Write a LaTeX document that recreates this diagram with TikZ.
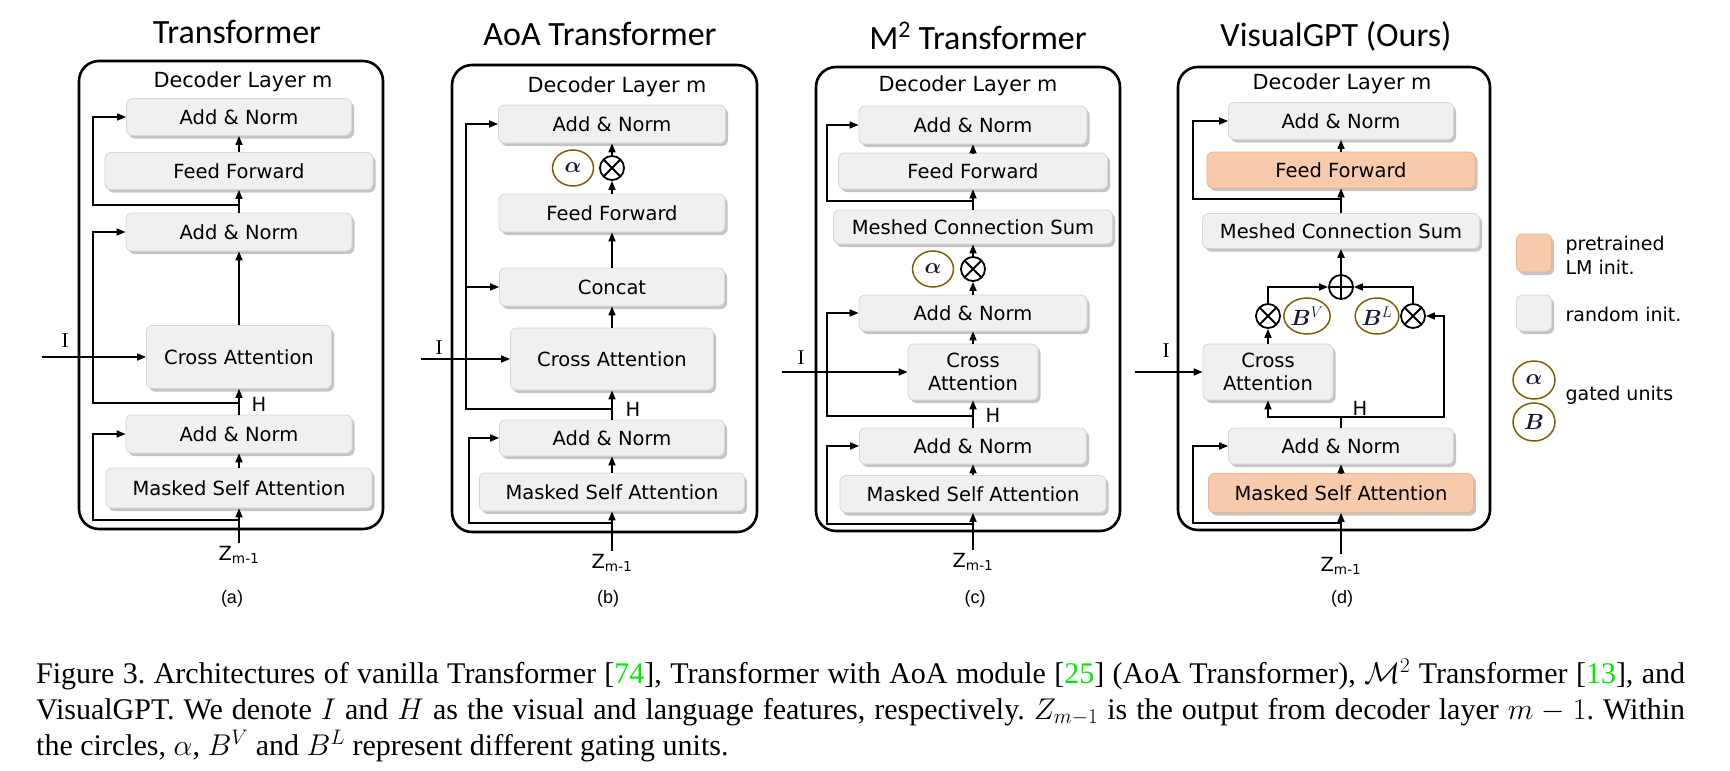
\RequirePackage{fix-cm}
\documentclass[tikz,border=0pt]{standalone}
\usepackage{amsmath}
\usepackage{bm}
\usepackage{xcolor}
\usepackage{fontspec}
\setmainfont{DejaVu Sans}
\newfontfamily\titlefont{Carlito}
\newfontfamily\capfont{Liberation Serif}
\newfontfamily\subfont{Liberation Sans}
\usepackage{tikz}
\usetikzlibrary{arrows.meta, positioning, shapes.geometric, shadows}
\definecolor{boxgray}{RGB}{240, 240, 240}
\definecolor{boxedge}{RGB}{214, 214, 214}
\definecolor{lmfill}{RGB}{248, 203, 173}
\definecolor{lmedge}{RGB}{244, 177, 131}
\definecolor{gatebrown}{RGB}{127, 96, 0}
\definecolor{gateink}{RGB}{25, 25, 60}
\definecolor{refgreen}{RGB}{0, 235, 0}
\newcommand\boxfont{\fontsize{19.5}{23}\selectfont}
\newcommand\decfont{\fontsize{20.8}{23}\selectfont}
\newcommand\gatefont{\fontsize{22}{24}\selectfont}

\begin{document}
\begin{tikzpicture}[
  x=1pt, y=-1pt,
  >={Triangle[length=9pt, width=7pt]},
  blk/.style={
    rectangle, rounded corners=6pt, draw=boxedge, fill=boxgray,
    line width=0.8pt, inner sep=0pt, font=\boxfont, align=center,
    drop shadow={shadow xshift=2.5pt, shadow yshift=-3pt, fill=black!45, opacity=0.5}
  },
  lmblk/.style={blk, draw=lmedge, fill=lmfill},
  frame/.style={rectangle, rounded corners=20pt, draw, line width=2.6pt, inner sep=0pt},
  flow/.style={->, line width=1.6pt},
  link/.style={line width=1.6pt},
  gate/.style={
    ellipse, draw=gatebrown, line width=1.5pt, minimum width=41pt,
    minimum height=36pt, inner sep=0pt, text=gateink, font=\gatefont
  },
  prodop/.style={
    circle, draw, line width=1.8pt, minimum size=24pt, inner sep=0pt, fill=white,
    path picture={\draw[line width=1.8pt]
      (path picture bounding box.north west) -- (path picture bounding box.south east)
      (path picture bounding box.north east) -- (path picture bounding box.south west);}
  },
  sumop/.style={
    circle, draw, line width=1.8pt, minimum size=24pt, inner sep=0pt, fill=white,
    path picture={\draw[line width=1.8pt]
      (path picture bounding box.north) -- (path picture bounding box.south)
      (path picture bounding box.west) -- (path picture bounding box.east);}
  },
  ttl/.style={font=\titlefont\fontsize{34}{38}\selectfont},
  lbl/.style={font=\boxfont},
  dec/.style={font=\decfont},
  sublbl/.style={font=\subfont\fontsize{18}{20}\selectfont},
  vis/.style={font=\capfont\fontsize{21}{24}\selectfont},
  capline/.style={anchor=base west, inner sep=0pt, font=\capfont\fontsize{30}{36}\selectfont\frenchspacing},
]

\fill[white] (0,0) rectangle (1730,771);
\useasboundingbox (0,0) rectangle (1730,771);

% ---------------- (a) Transformer ----------------
\def\xA{239}
\node[frame, minimum width=304pt, minimum height=468pt] (a-frame) at (231,295) {};
\node[ttl] (a-title) at (237,32) {Transformer};
\node[dec] (a-dec) at (243,82) {Decoder Layer m};

\node[blk, minimum width=225pt, minimum height=37pt] (a-an1) at (\xA,117) {Add \& Norm};
\node[blk, minimum width=268pt, minimum height=37pt] (a-ff)  at (\xA,171) {Feed Forward};
\node[blk, minimum width=226pt, minimum height=38pt] (a-an2) at (\xA,232) {Add \& Norm};
\node[blk, minimum width=185pt, minimum height=63pt] (a-ca)  at (\xA,357) {Cross Attention};
\node[blk, minimum width=226pt, minimum height=38pt] (a-an3) at (\xA,434) {Add \& Norm};
\node[blk, minimum width=266pt, minimum height=40pt] (a-ms)  at (\xA,488) {Masked Self Attention};

\node[lbl] (a-z) at (\xA,555) {Z\textsubscript{m-1}};
\node[vis] (a-i) at (65,341) {I};
\node[lbl] (a-h) at (259,404) {H};
\node[sublbl] (a-sub) at (232,599) {(a)};

\coordinate (a-in) at (42,357);
\coordinate (a-j1) at (\xA,520);
\coordinate (a-j2) at (\xA,403);
\coordinate (a-j3) at (\xA,205);

\draw[flow] (a-z) -- (a-ms);
\draw[flow] (a-ms) -- (a-an3);
\draw[flow] (a-j1) -- ++(-146,0) |- (a-an3);
\draw[flow] (a-an3) -- (a-ca);
\draw[flow] (a-in) -- (a-ca);
\draw[flow] (a-j2) -- ++(-146,0) |- (a-an2);
\draw[flow] (a-ca) -- (a-an2);
\draw[flow] (a-an2) -- (a-ff);
\draw[flow] (a-j3) -- ++(-146,0) |- (a-an1);
\draw[flow] (a-ff) -- (a-an1);

% ---------------- (b) AoA Transformer ----------------
\def\xB{612}
\node[frame, minimum width=305pt, minimum height=467pt] (b-frame) at (604.5,298.5) {};
\node[ttl] (b-title) at (600,34) {AoA Transformer};
\node[dec] (b-dec) at (617,87) {Decoder Layer m};

\node[blk, minimum width=227pt, minimum height=38pt] (b-an1) at (\xB,124) {Add \& Norm};
\node[gate] (b-alpha) at (573,168) {$\bm{\alpha}$};
\node[prodop] (b-mul) at (\xB,168) {};
\node[blk, minimum width=226pt, minimum height=38pt] (b-ff)  at (\xB,213) {Feed Forward};
\node[blk, minimum width=225pt, minimum height=38pt] (b-cc)  at (\xB,287) {Concat};
\node[blk, minimum width=203pt, minimum height=62pt] (b-ca)  at (\xB,359) {Cross Attention};
\node[blk, minimum width=225pt, minimum height=36pt] (b-an2) at (\xB,438) {Add \& Norm};
\node[blk, minimum width=265pt, minimum height=38pt] (b-ms)  at (\xB,492) {Masked Self Attention};

\node[lbl] (b-z) at (\xB,563) {Z\textsubscript{m-1}};
\node[vis] (b-i) at (439,348) {I};
\node[lbl] (b-h) at (633,409) {H};
\node[sublbl] (b-sub) at (608,599) {(b)};

\coordinate (b-in) at (421,359);
\coordinate (b-j1) at (\xB,523);
\coordinate (b-j2) at (\xB,409);
\coordinate (b-hl) at (466,409);

\draw[flow] (b-z) -- (b-ms);
\draw[flow] (b-ms) -- (b-an2);
\draw[flow] (b-j1) -- ++(-143,0) |- (b-an2);
\draw[flow] (b-an2) -- (b-ca);
\draw[flow] (b-in) -- (b-ca);
\draw[flow] (b-j2) -- (b-hl) |- (b-an1);
\draw[flow] (b-hl) |- (b-cc);
\draw[flow] (b-ca) -- (b-cc);
\draw[flow] (b-cc) -- (b-ff);
\draw[flow] (b-ff) -- (b-mul);
\draw[flow] (b-mul) -- (b-an1);

% ---------------- (c) M2 Transformer ----------------
\def\xC{973}
\node[frame, minimum width=304pt, minimum height=464pt] (c-frame) at (968,299) {};
\node[ttl] (c-title) at (978,36) {M\textsuperscript{2} Transformer};
\node[dec] (c-dec) at (968,86) {Decoder Layer m};

\node[blk, minimum width=228pt, minimum height=38pt] (c-an1) at (\xC,125) {Add \& Norm};
\node[blk, minimum width=269pt, minimum height=36pt] (c-ff)  at (\xC,171) {Feed Forward};
\node[blk, minimum width=279pt, minimum height=34pt] (c-mcs) at (\xC,227) {Meshed Connection Sum};
\node[gate] (c-alpha) at (933,269) {$\bm{\alpha}$};
\node[prodop] (c-mul) at (\xC,269) {};
\node[blk, minimum width=228pt, minimum height=36pt] (c-an2) at (\xC,313) {Add \& Norm};
\node[blk, minimum width=130pt, minimum height=56pt] (c-ca)  at (\xC,372) {Cross\\Attention};
\node[blk, minimum width=227pt, minimum height=36pt] (c-an3) at (\xC,446) {Add \& Norm};
\node[blk, minimum width=266pt, minimum height=37pt] (c-ms)  at (\xC,494) {Masked Self Attention};

\node[lbl] (c-z) at (\xC,562) {Z\textsubscript{m-1}};
\node[vis] (c-i) at (801,358) {I};
\node[lbl] (c-h) at (993,415) {H};
\node[sublbl] (c-sub) at (975,599) {(c)};

\coordinate (c-in) at (782,372);
\coordinate (c-j1) at (\xC,524);
\coordinate (c-j2) at (\xC,416);
\coordinate (c-j3) at (\xC,201);

\draw[flow] (c-z) -- (c-ms);
\draw[flow] (c-ms) -- (c-an3);
\draw[flow] (c-j1) -- ++(-146,0) |- (c-an3);
\draw[flow] (c-an3) -- (c-ca);
\draw[flow] (c-in) -- (c-ca);
\draw[flow] (c-j2) -- ++(-146,0) |- (c-an2);
\draw[flow] (c-ca) -- (c-an2);
\draw[flow] (c-an2) -- (c-mul);
\draw[flow] (c-mul) -- (c-mcs);
\draw[flow] (c-mcs) -- (c-ff);
\draw[flow] (c-j3) -- ++(-146,0) |- (c-an1);
\draw[flow] (c-ff) -- (c-an1);

% ---------------- (d) VisualGPT ----------------
\def\xD{1341}
\node[frame, minimum width=312pt, minimum height=463pt] (d-frame) at (1334,298.5) {};
\node[ttl] (d-title) at (1336,36) {VisualGPT (Ours)};
\node[dec] (d-dec) at (1342,84) {Decoder Layer m};

\node[blk, minimum width=225pt, minimum height=37pt] (d-an1) at (\xD,121) {Add \& Norm};
\node[lmblk, minimum width=268pt, minimum height=36pt] (d-ff) at (\xD,170) {Feed Forward};
\node[blk, minimum width=277pt, minimum height=35pt] (d-mcs) at (\xD,231) {Meshed Connection Sum};
\node[sumop] (d-sum) at (\xD,287) {};
\node[prodop] (d-mull) at (1268,316) {};
\node[gate] (d-bv) at (1307,316) {$\bm{B}^{V}$};
\node[gate] (d-bl) at (1377,316) {$\bm{B}^{L}$};
\node[prodop] (d-mulr) at (1413,316) {};
\node[blk, minimum width=130pt, minimum height=56pt] (d-ca) at (1268,372) {Cross\\Attention};
\node[blk, minimum width=225pt, minimum height=36pt] (d-an2) at (\xD,446) {Add \& Norm};
\node[lmblk, minimum width=265pt, minimum height=39pt] (d-ms) at (\xD,493) {Masked Self Attention};

\node[lbl] (d-z) at (\xD,566) {Z\textsubscript{m-1}};
\node[vis] (d-i) at (1166,351) {I};
\node[lbl] (d-h) at (1360,408) {H};
\node[sublbl] (d-sub) at (1342,599) {(d)};

\coordinate (d-in) at (1135,372);
\coordinate (d-j1) at (\xD,523);
\coordinate (d-j2) at (\xD,417);
\coordinate (d-hr) at (1444,417);
\coordinate (d-j3) at (\xD,199);

\draw[flow] (d-z) -- (d-ms);
\draw[flow] (d-ms) -- (d-an2);
\draw[flow] (d-j1) -- ++(-148,0) |- (d-an2);
\draw[link] (d-an2) -- (d-j2);
\draw[flow] (d-j2) -| (d-ca);
\draw[flow] (d-j2) -- (d-hr) |- (d-mulr);
\draw[flow] (d-in) -- (d-ca);
\draw[flow] (d-ca) -- (d-mull);
\draw[flow] (d-mull) |- (d-sum);
\draw[flow] (d-mulr) |- (d-sum);
\draw[flow, line width=2.2pt] (d-sum) -- (d-mcs);
\draw[flow] (d-mcs) -- (d-ff);
\draw[flow] (d-j3) -- ++(-148,0) |- (d-an1);
\draw[flow] (d-ff) -- (d-an1);

% ---------------- legend ----------------
\node[lmblk, minimum width=35pt, minimum height=38pt] (k-lm) at (1534,253) {};
\node[blk, minimum width=35pt, minimum height=36pt] (k-rand) at (1534,313) {};
\node[gate, minimum width=42pt, minimum height=38pt] (k-alpha) at (1534,380) {$\bm{\alpha}$};
\node[gate, minimum width=42pt, minimum height=38pt] (k-b) at (1534,422) {$\bm{B}$};
\node[lbl, anchor=west, align=left, font=\fontsize{19}{24}\selectfont] (k-lmtxt) at (1562,255) {pretrained\\LM init.};
\node[lbl, anchor=west, font=\fontsize{19}{24}\selectfont] (k-randtxt) at (1562,314) {random init.};
\node[lbl, anchor=west, font=\fontsize{19}{24}\selectfont] (k-gatetxt) at (1562,395) {gated units};

% ---------------- caption ----------------
\node[capline] (cap1) at (36,683)
  {\makebox[1649pt][s]{Figure 3. Architectures of vanilla Transformer [\textcolor{refgreen}{74}], Transformer with AoA module [\textcolor{refgreen}{25}] (AoA Transformer), $\mathcal{M}^2$ Transformer [\textcolor{refgreen}{13}], and}};
\node[capline] (cap2) at (36,719)
  {\makebox[1649pt][s]{VisualGPT. We denote $I$ and $H$ as the visual and language features, respectively. $Z_{m-1}$ is the output from decoder layer $m-1$. Within}};
\node[capline] (cap3) at (36,755)
  {the circles, $\alpha$, $B^V$ and $B^L$ represent different gating units.};

\end{tikzpicture}
\end{document}
